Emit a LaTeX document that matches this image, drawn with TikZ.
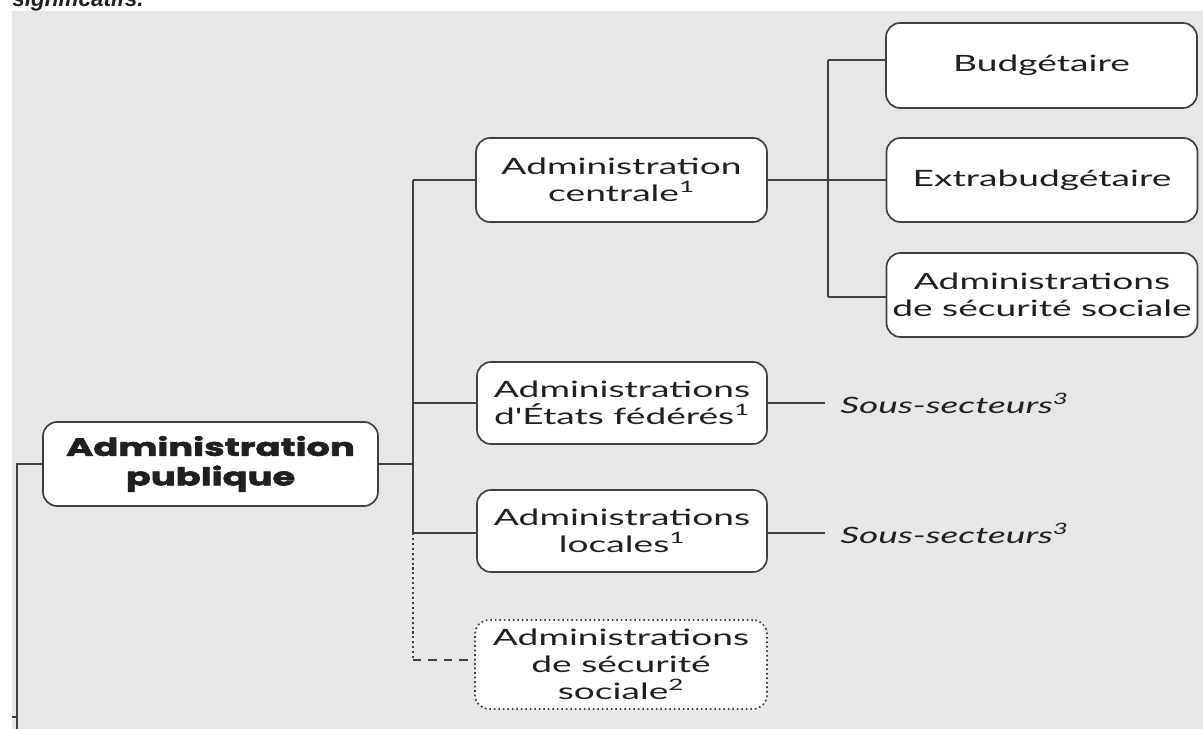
\documentclass[tikz,border=0pt]{standalone}
\usepackage{fontspec}
\setmainfont{Lato}
\newfontfamily\boxfont[FakeStretch=1.65]{Lato}
\newfontfamily\titlefont[FakeStretch=1.5,FakeBold=2.5]{Poppins}
\newfontfamily\topfont{Liberation Sans}
\definecolor{bgpanel}{HTML}{E6E7E8}
\definecolor{linec}{HTML}{404040}
\definecolor{txt}{HTML}{231F20}
\tikzset{
  box/.style={draw=linec, line width=1.2pt, fill=white, rounded corners=10pt,
    align=center, inner sep=0pt, text=txt,
    font=\boxfont\fontsize{16}{19}\selectfont},
  dbox/.style={box, dotted},
  sz/.style 2 args={minimum width=#1*0.025cm, minimum height=#2*0.025cm},
  conn/.style={draw=linec, line width=1.5pt},
  ital/.style={anchor=west, inner sep=0pt, text=txt,
    font=\boxfont\itshape\fontsize{16}{19}\selectfont},
}
\begin{document}
\begin{tikzpicture}[x=0.025cm,y=-0.025cm]
\useasboundingbox (0,0) rectangle (1203,729);
\fill[bgpanel] (12,11) rectangle (1203,729);
\node[anchor=base west, inner sep=0pt, text=txt,
  font=\topfont\bfseries\itshape\fontsize{16}{18}\selectfont] (toptext) at (12,7) {significatifs.};

% nodes
\node[box, sz={335}{84}, font=\titlefont\bfseries\fontsize{17.5}{21}\selectfont] (pub) at (210.5,464) {Administration\\publique};
\node[box, sz={291}{84}] (cent) at (621.5,180) {Administration\\centrale\textsuperscript{1}};
\node[box, sz={290}{82}] (etat) at (622,403) {Administrations\\d'États fédérés\textsuperscript{1}};
\node[box, sz={290}{82}] (loc) at (622,531) {Administrations\\locales\textsuperscript{1}};
\node[dbox, sz={292}{89}] (secu) at (621,664.5) {Administrations\\de sécurité\\sociale\textsuperscript{2}};
\node[box, sz={311}{85}] (bud) at (1041.5,65.5) {Budgétaire};
\node[box, sz={311}{84}] (extra) at (1042,180) {Extrabudgétaire};
\node[box, sz={311}{84}] (adss) at (1042,295) {Administrations\\de sécurité sociale};
\node[ital] (ss1) at (840,403) {Sous-secteurs\textsuperscript{3}};
\node[ital] (ss2) at (840,533) {Sous-secteurs\textsuperscript{3}};

% coordinates
\coordinate (j1) at (413,464);
\coordinate (jt) at (413,180);
\coordinate (jb) at (413,533);
\coordinate (jd) at (413,660);
\coordinate (lb) at (17,729);
\coordinate (tk) at (12,717);
\coordinate (r1) at (828,60);
\coordinate (r2) at (828,297);

% connectors
\draw[conn] (pub.east) -- (j1);
\draw[conn] (jt) -- (jb);
\draw[conn] (jt) -- (cent.west);
\draw[conn] (jt |- etat.west) -- (etat.west);
\draw[conn] (jb) -- (jb -| loc.west);
\draw[conn, dotted] (jb) -- (jd);
\draw[conn, dashed, dash pattern=on 6pt off 5pt] (jd) -- (jd -| secu.west);
\draw[conn] (pub.west) -| (lb);
\draw[conn] (tk) -- (tk -| lb);
\draw[conn] (cent.east) -- (cent.east -| r1);
\draw[conn] (r1) -- (r2);
\draw[conn] (r1) -- (r1 -| bud.west);
\draw[conn] (r1 |- extra.west) -- (extra.west);
\draw[conn] (r2) -- (r2 -| adss.west);
\draw[conn] (etat.east) -- ([xshift=-0.375cm]ss1.west);
\draw[conn] (loc.east |- ss2.west) -- ([xshift=-0.375cm]ss2.west);
\end{tikzpicture}
\end{document}
